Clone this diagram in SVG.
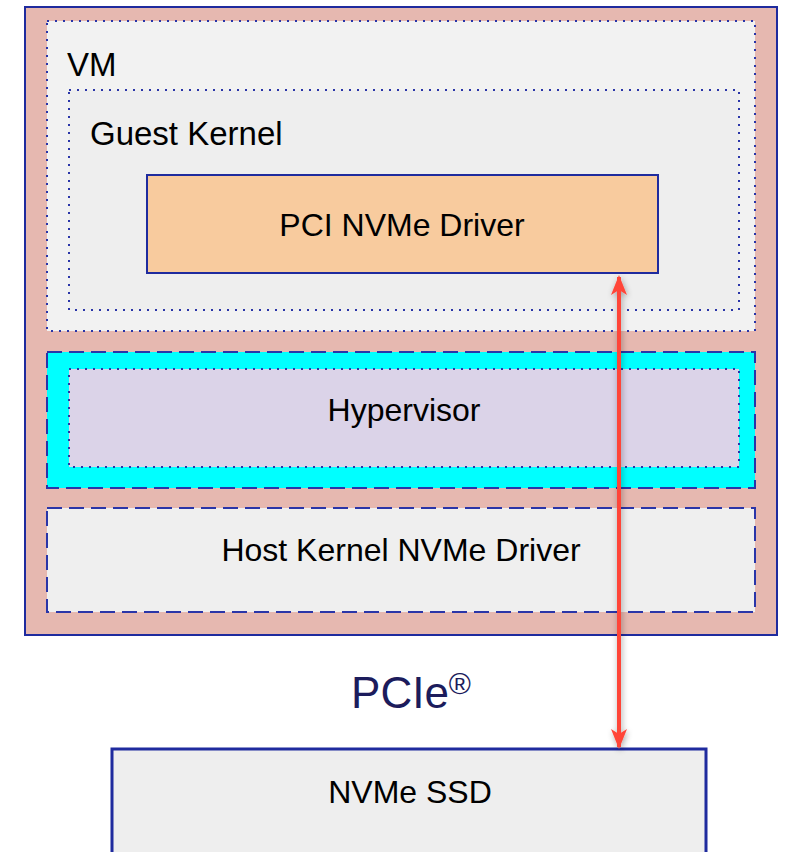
<svg xmlns="http://www.w3.org/2000/svg" width="790" height="852" viewBox="0 0 790 852">
  <style>
    .lbl { font-family: "Liberation Sans", Arial, sans-serif; fill: #000; }
    .dotted { stroke: #2a35a8; stroke-width: 2; stroke-dasharray: 2 6; }
    .dashed { stroke: #2a35a8; stroke-width: 2; stroke-dasharray: 15 7; }
    .solid { stroke: #1f2b9e; }
  </style>
  <defs>
    <marker id="head" viewBox="0 0 20 20" refX="18" refY="10" markerWidth="20" markerHeight="20" markerUnits="userSpaceOnUse" orient="auto-start-reverse">
      <path d="M0,2 L20,10 L0,18 L5,10 Z" fill="#ff4539"/>
    </marker>
    <!-- soft shadow behind the link; region in user space because the line has no width -->
    <filter id="shadow" filterUnits="userSpaceOnUse" x="590" y="255" width="60" height="515">
      <feGaussianBlur in="SourceAlpha" stdDeviation="3"/>
      <feOffset dx="1" dy="2"/>
      <feComponentTransfer><feFuncA type="linear" slope="0.35"/></feComponentTransfer>
      <feMerge><feMergeNode/><feMergeNode in="SourceGraphic"/></feMerge>
    </filter>
  </defs>

  <g id="host">
    <rect x="25" y="7" width="752" height="628" fill="#e6b8b0" class="solid" stroke-width="2"/>
  </g>

  <g id="vm">
    <rect x="47" y="21" width="708" height="310" fill="#f2f2f2" class="dotted"/>
    <text class="lbl" x="67" y="76" font-size="33">VM</text>
  </g>

  <g id="guest-kernel">
    <rect x="69" y="90" width="670" height="220" fill="#eeeeee" class="dotted"/>
    <text class="lbl" x="90" y="145" font-size="33">Guest Kernel</text>
  </g>

  <g id="pci-nvme-driver">
    <rect x="147" y="175" width="511" height="98" fill="#f8cb9e" class="solid" stroke-width="2"/>
    <text class="lbl" x="402" y="236" font-size="32" text-anchor="middle">PCI NVMe Driver</text>
  </g>

  <g id="hypervisor">
    <rect x="47" y="352" width="708" height="136" fill="#00ffff" class="dashed"/>
    <rect x="69" y="369" width="670" height="98" fill="#dbd3e8" class="dotted"/>
    <text class="lbl" x="404" y="421" font-size="32" text-anchor="middle">Hypervisor</text>
  </g>

  <g id="host-kernel-nvme-driver">
    <rect x="47" y="508" width="708" height="104" fill="#efefef" class="dashed"/>
    <text class="lbl" x="401" y="561" font-size="32" text-anchor="middle">Host Kernel NVMe Driver</text>
  </g>

  <g id="pcie-label">
    <text x="411" y="708" font-family="&quot;Liberation Sans&quot;, Arial, sans-serif" font-size="44" fill="#1c1c5c" text-anchor="middle">PCIe<tspan font-size="30" dy="-14">®</tspan></text>
  </g>

  <g id="nvme-ssd">
    <rect x="112" y="749" width="594" height="110" fill="#eeeeee" class="solid" stroke-width="3"/>
    <text class="lbl" x="410" y="803" font-size="32" text-anchor="middle">NVMe SSD</text>
  </g>

  <g id="connectors" filter="url(#shadow)">
    <line x1="619" y1="277" x2="619" y2="747" stroke="#ff4539" stroke-width="4" marker-start="url(#head)" marker-end="url(#head)"/>
  </g>
</svg>
